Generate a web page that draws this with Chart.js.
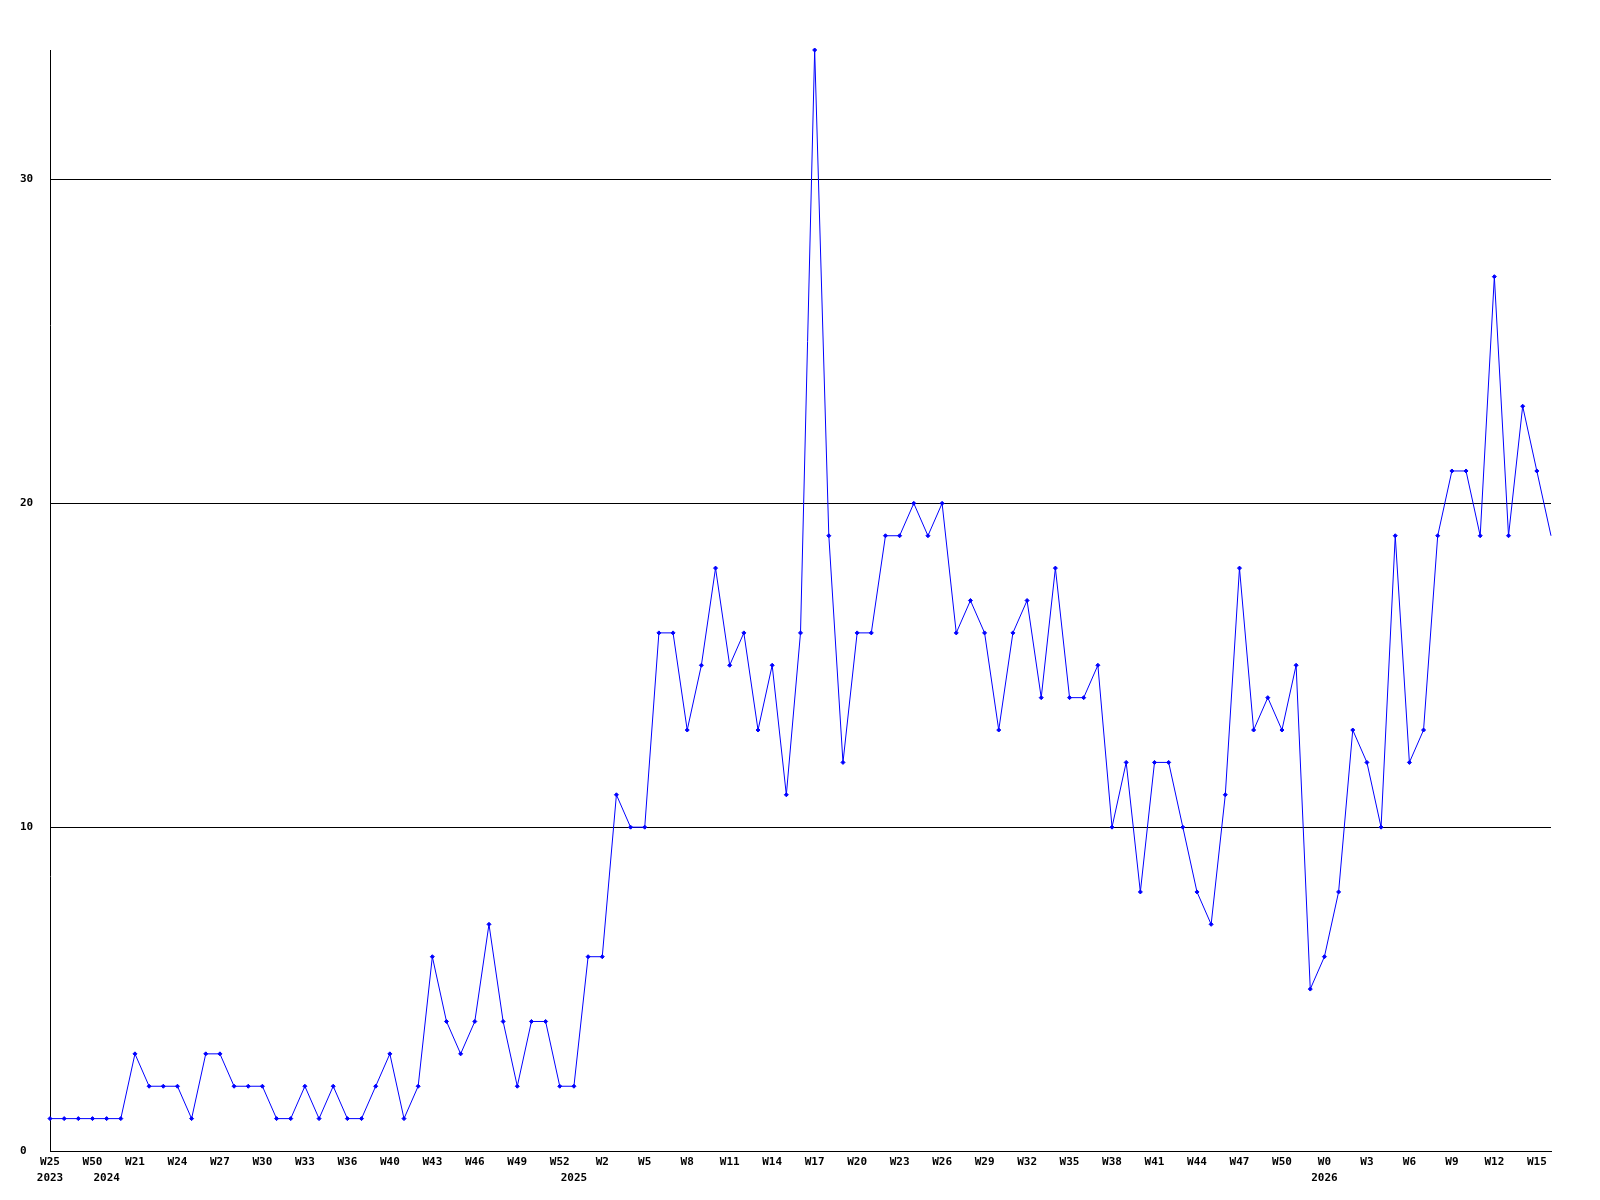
<!DOCTYPE html>
<html>
<head>
<meta charset="utf-8">
<script src="https://cdn.jsdelivr.net/npm/chart.js@4/dist/chart.umd.min.js"></script>
<style>
  body { margin: 0; background: #fff; }
  #wrap { width: 1600px; height: 1200px; }
</style>
</head>
<body>
<div id="wrap"><canvas id="chart" width="1600" height="1200"></canvas></div>
<script>
// weekly counts, one per data week (gaps in the weeks are not plotted)
const values = [
  1, 1, 1, 1, 1, 1, 3, 2, 2, 2,
  1, 3, 3, 2, 2, 2, 1, 1, 2, 1,
  2, 1, 1, 2, 3, 1, 2, 6, 4, 3,
  4, 7, 4, 2, 4, 4, 2, 2, 6, 6,
  11, 10, 10, 16, 16, 13, 15, 18, 15, 16,
  13, 15, 11, 16, 34, 19, 12, 16, 16, 19,
  19, 20, 19, 20, 16, 17, 16, 13, 16, 17,
  14, 18, 14, 14, 15, 10, 12, 8, 12, 12,
  10, 8, 7, 11, 18, 13, 14, 13, 15, 5,
  6, 8, 13, 12, 10, 19, 12, 13, 19, 21,
  21, 19, 27, 19, 23, 21, 19
];

// label shown on every 3rd point
const weekLabels = [
  "W25", "W50", "W21", "W24", "W27", "W30", "W33", "W36", "W40", "W43",
  "W46", "W49", "W52", "W2", "W5", "W8", "W11", "W14", "W17", "W20",
  "W23", "W26", "W29", "W32", "W35", "W38", "W41", "W44", "W47", "W50",
  "W0", "W3", "W6", "W9", "W12", "W15"
];
const labelStep = 3;

// year shown under the first point of each year
const yearIndex = [0, 4, 37, 90];
const yearLabels = ["2023", "2024", "2025", "2026"];

const yTicks = [0, 10, 20, 30];
const yMax = 34;

const categories = values.map((v, i) => {
  const wk = i % labelStep === 0 ? (weekLabels[i / labelStep] || "") : "";
  const y = yearIndex.indexOf(i);
  return y >= 0 ? [wk, yearLabels[y]] : wk;
});

const font = { family: "'DejaVu Sans Mono', monospace", size: 11, weight: "bold", lineHeight: "16px" };

new Chart(document.getElementById("chart"), {
  type: "line",
  data: {
    labels: categories,
    datasets: [{
      data: values,
      borderColor: "#0000ff",
      backgroundColor: "#0000ff",
      borderWidth: 1,
      tension: 0,
      fill: false,
      pointStyle: "rectRot",
      pointRadius: c => c.dataIndex === values.length - 1 ? 0 : 2,
      pointBorderWidth: 1,
      pointHoverRadius: 2,
      clip: 6
    }]
  },
  options: {
    responsive: false,
    animation: false,
    layout: { padding: { left: 20, top: 50, right: 49, bottom: 0 } },
    plugins: { legend: { display: false }, tooltip: { enabled: false } },
    scales: {
      x: {
        type: "category",
        offset: false,
        grid: { display: false, drawTicks: false },
        border: { display: true, color: "#000", width: 1 },
        ticks: {
          autoSkip: false,
          maxRotation: 0,
          minRotation: 0,
          padding: 3,
          color: "#000",
          font: font
        },
        afterFit: s => { s.height = 49; }
      },
      y: {
        min: 0,
        max: yMax,
        grid: { color: "#000", lineWidth: 1, drawTicks: false },
        border: { display: true, color: "#000", width: 1 },
        ticks: {
          stepSize: 10,
          includeBounds: false,
          crossAlign: "far",
          padding: 0,
          color: "#000",
          font: font,
          callback: v => yTicks.includes(v) ? String(v) : null
        },
        afterFit: s => { s.width = 30; }
      }
    }
  }
});
</script>
</body>
</html>
